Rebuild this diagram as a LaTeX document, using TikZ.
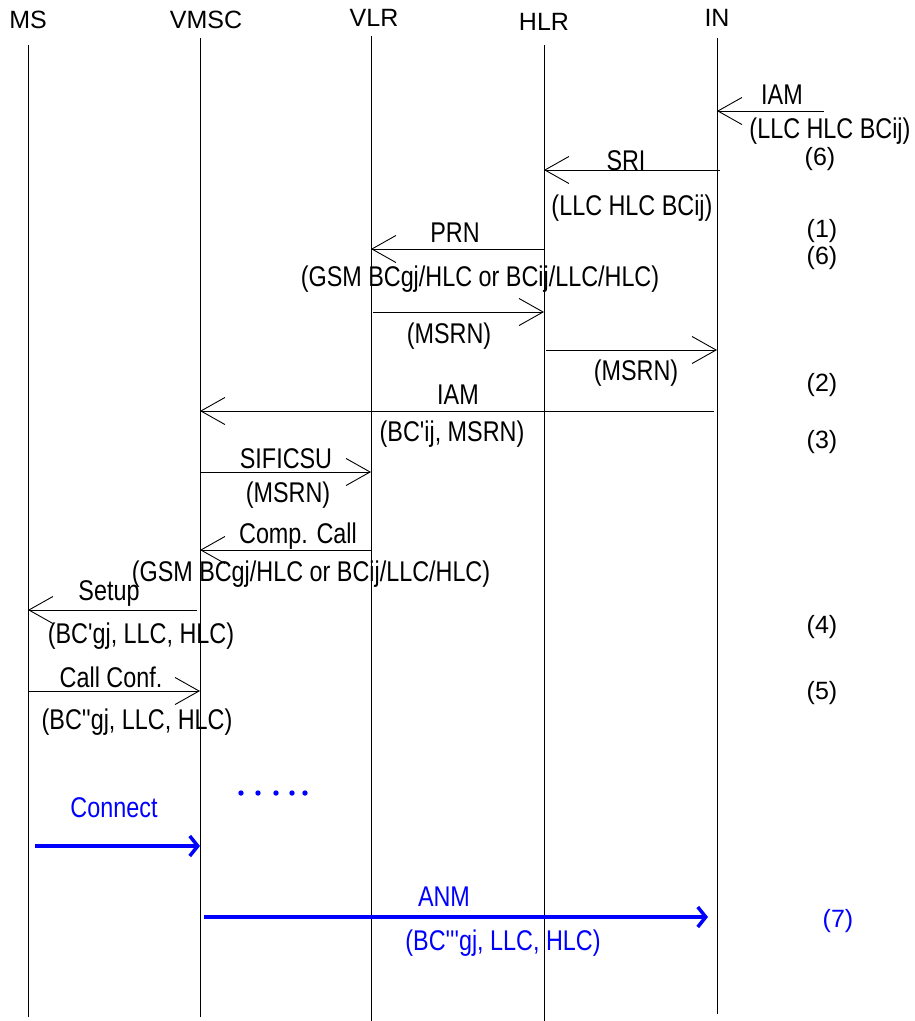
\documentclass[tikz,border=0pt]{standalone}
\usepackage{fontspec}
\setmainfont{Liberation Sans}
\newfontfamily\condfont[FakeStretch=0.82]{Liberation Sans}
\usetikzlibrary{arrows.meta}

\tikzset{
  lbl/.style={inner sep=0pt, font=\condfont\fontsize{28.5}{32}\selectfont},
  head/.style={inner sep=0pt, font=\fontsize{25}{29}\selectfont},
  par/.style={lbl},
  num/.style={inner sep=0pt, font=\fontsize{25}{29}\selectfont},
  life/.style={line width=0.9pt},
  msg/.style={line width=0.9pt, -{Straight Barb[length=24pt,width=27pt,line width=0.9pt]}},
  bmsg/.style={blue, line width=3.5pt, -{Straight Barb[length=8pt,width=20pt,line width=3.5pt]}},
}

\begin{document}
\begin{tikzpicture}[x=1pt, y=-1pt]

  \useasboundingbox (0,0) rectangle (915,1021);

  %% entities and lifelines
  \node[head] (ms)   at (28,20)  {MS};
  \node[head] (vmsc) at (206,20) {VMSC};
  \node[head] (vlr)  at (374,18) {VLR};
  \node[head] (hlr)  at (544,22) {HLR};
  \node[head] (in)   at (717,18) {IN};

  \coordinate (ms-t)   at (28,45);   \coordinate (ms-b)   at (28,1017);
  \coordinate (vmsc-t) at (200,38);  \coordinate (vmsc-b) at (200,1017);
  \coordinate (vlr-t)  at (371,36);  \coordinate (vlr-b)  at (371,1021);
  \coordinate (hlr-t)  at (544,45);  \coordinate (hlr-b)  at (544,1021);
  \coordinate (in-t)   at (717,38);  \coordinate (in-b)   at (717,1014);

  \foreach \e in {ms,vmsc,vlr,hlr,in}
    \draw[life] (\e-t) -- (\e-b);

  %% IAM from the right
  \coordinate (iam-src) at (824,111);
  \draw[msg] (iam-src) -- (in-t |- iam-src);
  \node[lbl] (iam1)  at (782,95)  {IAM};
  \node[par] (iam1p) at (830,131) {(LLC HLC BCij)};
  \node[num] (n6a)   at (820,159) {(6)};

  %% SRI
  \coordinate (r-sri) at (0,170);
  \draw[msg] ([xshift=3pt]in-t |- r-sri) -- (hlr-t |- r-sri);
  \node[lbl] (sri)  at (626,161) {SRI};
  \node[par] (srip) at (632,208) {(LLC HLC BCij)};
  \node[num] (n1)   at (822,231) {(1)};
  \node[num] (n6b)  at (822,258) {(6)};

  %% PRN and answers
  \coordinate (r-prn) at (0,249);
  \draw[msg] (hlr-t |- r-prn) -- (vlr-t |- r-prn);
  \node[lbl] (prn)  at (455,233) {PRN};
  \node[par] (prnp) at (480,279) {(GSM BCgj/HLC or BCij/LLC/HLC)};

  \coordinate (r-ans1) at (0,312);
  \draw[msg] ([xshift=2pt]vlr-t |- r-ans1) -- (hlr-t |- r-ans1);
  \node[par] (msrn1) at (449,336) {(MSRN)};

  \coordinate (r-ans2) at (0,350);
  \draw[msg] ([xshift=2pt]hlr-t |- r-ans2) -- (in-t |- r-ans2);
  \node[par] (msrn2) at (636,373) {(MSRN)};
  \node[num] (n2)    at (822,385) {(2)};

  %% IAM to VMSC
  \coordinate (r-iam) at (0,411);
  \draw[msg] ([xshift=-3pt]in-t |- r-iam) -- (vmsc-t |- r-iam);
  \node[lbl] (iam2)  at (458,395) {IAM};
  \node[par] (iam2p) at (452,434) {(BC'ij, MSRN)};
  \node[num] (n3)    at (822,442) {(3)};

  %% SIFICSU
  \coordinate (r-sif) at (0,472);
  \draw[msg] (vmsc-t |- r-sif) -- (vlr-t |- r-sif);
  \node[lbl] (sif)  at (286,459) {SIFICSU};
  \node[par] (sifp) at (288,495) {(MSRN)};

  %% Complete Call
  \coordinate (r-cc) at (0,550);
  \draw[msg] (vlr-t |- r-cc) -- (vmsc-t |- r-cc);
  \node[lbl] (cc)  at (298,536) {Comp. Call};
  \node[par] (ccp) at (311,574) {(GSM BCgj/HLC or BCij/LLC/HLC)};

  %% Setup
  \coordinate (r-set) at (0,610);
  \draw[msg] ([xshift=-3pt]vmsc-t |- r-set) -- (ms-t |- r-set);
  \node[lbl] (set)  at (109,593) {Setup};
  \node[par] (setp) at (141,636) {(BC'gj, LLC, HLC)};
  \node[num] (n4)   at (822,627) {(4)};

  %% Call Confirmed
  \coordinate (r-conf) at (0,691);
  \draw[msg] (ms-t |- r-conf) -- (vmsc-t |- r-conf);
  \node[lbl] (conf)  at (111,677) {Call Conf.};
  \node[par] (confp) at (137,722) {(BC''gj, LLC, HLC)};
  \node[num] (n5)    at (822,693) {(5)};

  %% dots
  \foreach \x in {241,258,276,292,305}
    \fill[blue] (\x,793) circle (2.7pt);

  %% Connect
  \coordinate (con-src) at (35,846);
  \draw[bmsg] (con-src) -- (vmsc-t |- con-src);
  \node[lbl, text=blue] (con) at (114,808) {Connect};

  %% ANM
  \coordinate (r-anm) at (0,917);
  \draw[bmsg] ([xshift=4pt]vmsc-t |- r-anm) -- ([xshift=-9pt]in-t |- r-anm);
  \node[lbl, text=blue] (anm)  at (444,897) {ANM};
  \node[par, text=blue] (anmp) at (503,943) {(BC'''gj, LLC, HLC)};
  \node[num, text=blue] (n7)   at (838,921) {(7)};

\end{tikzpicture}
\end{document}
